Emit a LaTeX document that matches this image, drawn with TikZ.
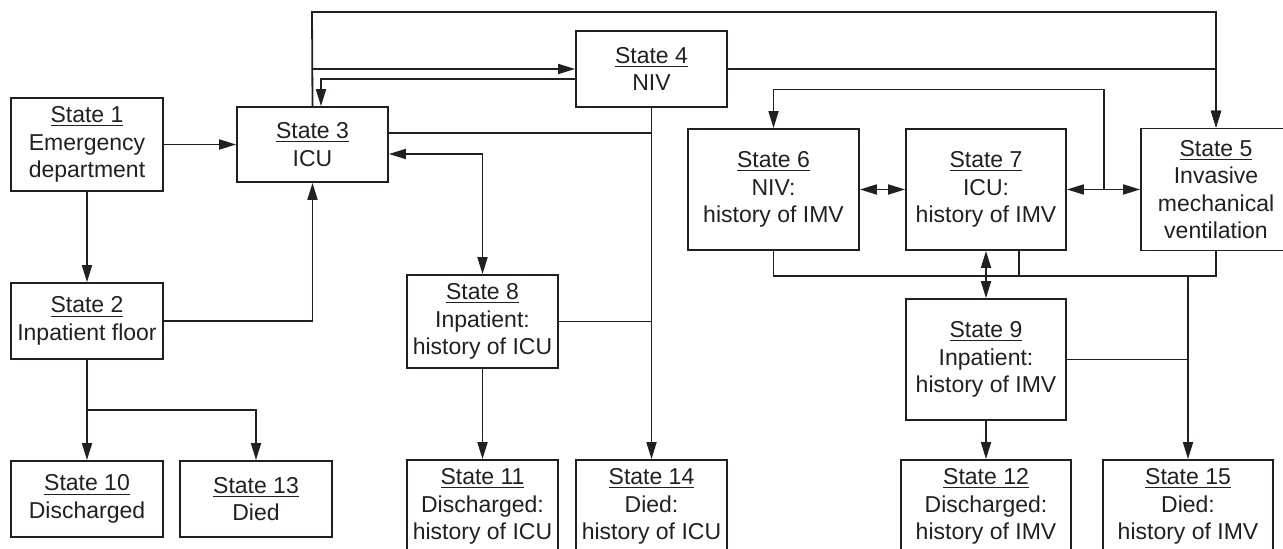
\documentclass[tikz,border=0pt]{standalone}
\usepackage{fontspec}
\setmainfont{Liberation Sans}
\usepackage{xcolor}
\usepackage{tikz}
\usetikzlibrary{arrows.meta}
\definecolor{ink}{RGB}{35,31,32}
\tikzset{
  statebox/.style={draw=ink,text=ink,line width=0.9pt,align=center,inner sep=2pt,font=\fontsize{11.5}{13.75}\selectfont},
  wire/.style={draw=ink,line width=0.9pt},
}

\begin{document}
\begin{tikzpicture}[x=0.5pt,y=-0.5pt,>={Triangle[length=8.5pt,width=5pt]}]
\useasboundingbox (0,0) rectangle (1283,549);
\clip (0,0) rectangle (1283,549);
% entry side
\node[statebox,minimum width=76pt,minimum height=46.5pt] (s1) at (87,144.5) {\underline{State 1}\\Emergency\\department};
\node[statebox,minimum width=76pt,minimum height=38pt] (s2) at (87,321) {\underline{State 2}\\Inpatient floor};
\node[statebox,minimum width=75.5pt,minimum height=37.5pt] (s3) at (312.5,144.5) {\underline{State 3}\\ICU};
\node[statebox,minimum width=75.5pt,minimum height=38pt] (s4) at (651.5,69) {\underline{State 4}\\NIV};
\node[statebox,minimum width=75.5pt,minimum height=46.5pt] (s8) at (482.5,321.5) {\underline{State 8}\\Inpatient:\\history of ICU};
% ventilation block
\node[statebox,minimum width=75pt,minimum height=61pt] (s5) at (1216,189.5) {\underline{State 5}\\Invasive\\mechanical\\ventilation};
\node[statebox,minimum width=85.5pt,minimum height=60.5pt] (s6) at (773.5,189.5) {\underline{State 6}\\NIV:\\history of IMV};
\node[statebox,minimum width=80pt,minimum height=60.5pt] (s7) at (986,189.5) {\underline{State 7}\\ICU:\\history of IMV};
\node[statebox,minimum width=80pt,minimum height=60.5pt] (s9) at (986,359.5) {\underline{State 9}\\Inpatient:\\history of IMV};
% absorbing states
\node[statebox,minimum width=76pt,minimum height=38pt] (s10) at (87,499) {\underline{State 10}\\Discharged};
\node[statebox,minimum width=76pt,minimum height=38pt] (s13) at (256,499) {\underline{State 13}\\Died};
\node[statebox,minimum width=75.5pt,minimum height=46.5pt] (s11) at (482.5,506.5) {\underline{State 11}\\Discharged:\\history of ICU};
\node[statebox,minimum width=75.5pt,minimum height=46.5pt] (s14) at (651.5,506.5) {\underline{State 14}\\Died:\\history of ICU};
\node[statebox,minimum width=85pt,minimum height=46.5pt] (s12) at (986,506.5) {\underline{State 12}\\Discharged:\\history of IMV};
\node[statebox,minimum width=85pt,minimum height=46.5pt] (s15) at (1188,506.5) {\underline{State 15}\\Died:\\history of IMV};
% junctions
\coordinate (top) at (312,12);
\coordinate (split2) at (87,410);
\coordinate (j75) at (1104,189.5);
\coordinate (bus) at (1188,276);
% transitions
\draw[wire,->] (s1.east) -- (s3.west);
\draw[wire,->] (s1.south) -- (s2.north);
\draw[wire,->] (s2.east) -| (s3.south);
\draw[wire,->] (s2.south) -- (s10.north);
\draw[wire,->] (split2) -| (s13.north);
\draw[wire,->] (s3.north) |- (s4.west);
\draw[wire,->] (s3.north) -- (top) -| (s5.north);
\draw[wire,->] ([yshift=-5pt]s4.west) -| ([xshift=4.25pt]s3.north);
\draw[wire,->] (s4.east) -| (s5.north);
\draw[wire,->] (s4.south) -- (s14.north);
\draw[wire] ([yshift=5.75pt]s3.east) -| (s4.south);
\draw[wire,<->] ([yshift=-4.75pt]s3.east) -| (s8.north);
\draw[wire] (s8.east) -| (s4.south);
\draw[wire,->] (s8.south) -- (s11.north);
\draw[wire,<->] (s6.east) -- (s7.west);
\draw[wire,<->] (s7.east) -- (s5.west);
\draw[wire,->] (j75) -- ++(0,-100) -| (s6.north);
\draw[wire,<->] (s7.south) -- (s9.north);
\draw[wire] (s6.south) |- (bus);
\draw[wire] ([xshift=16.5pt]s7.south) |- (bus);
\draw[wire] (s5.south) |- (bus);
\draw[wire] (s9.east) -| (bus);
\draw[wire,->] (bus) -- (s15.north);
\draw[wire,->] (s9.south) -- (s12.north);
\end{tikzpicture}
\end{document}
